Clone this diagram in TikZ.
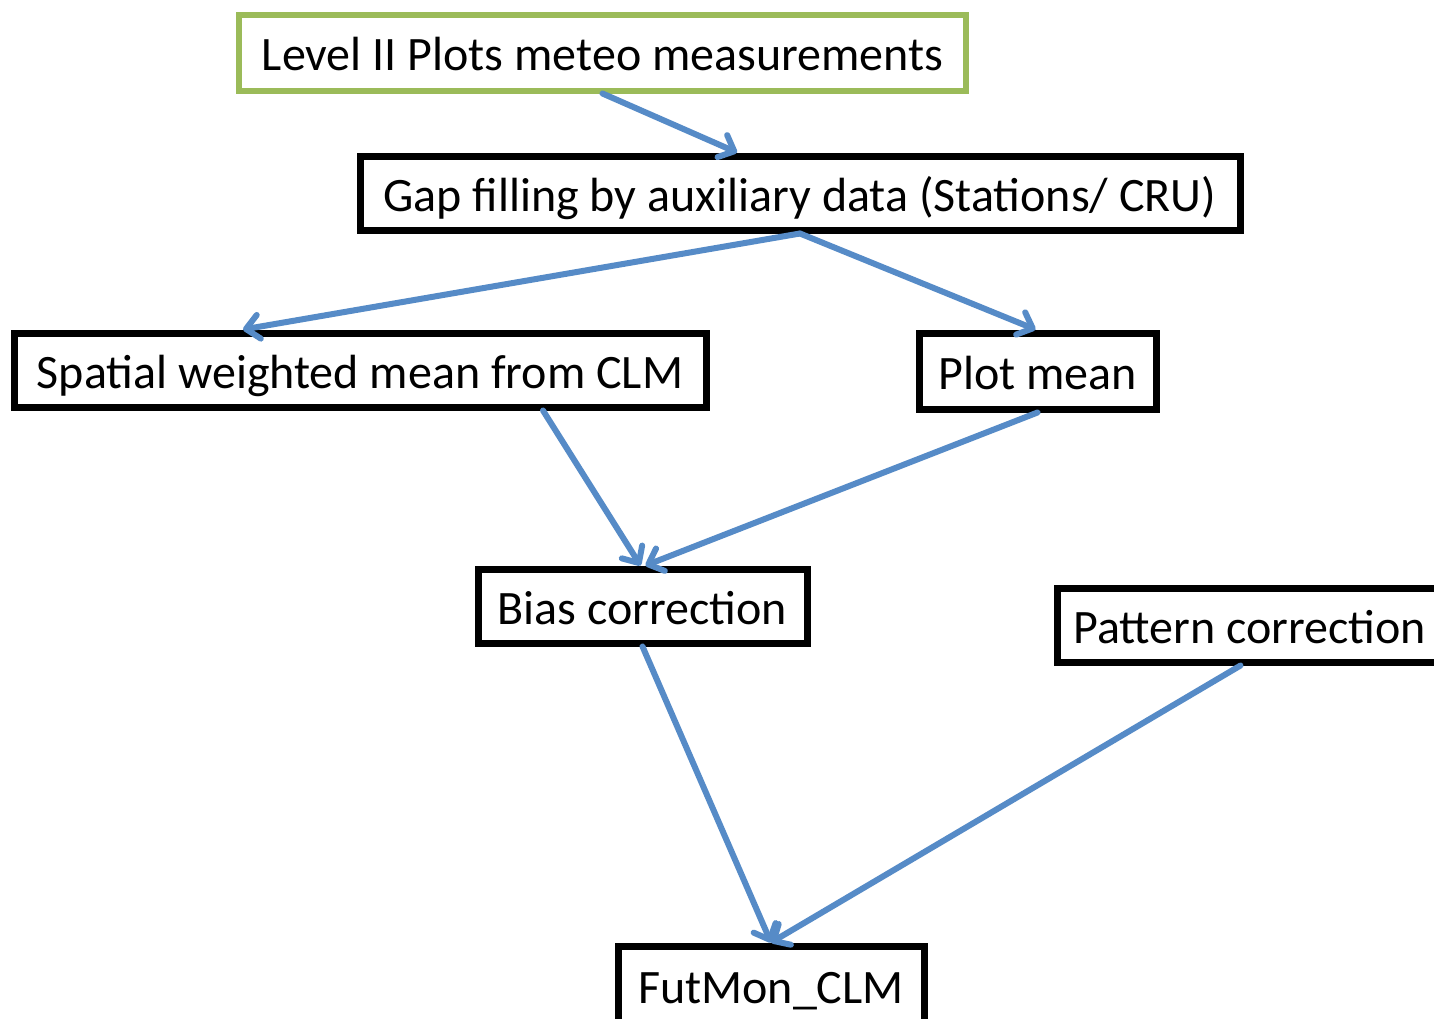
\documentclass[tikz,border=0pt]{standalone}
\usepackage{fontspec}
\setmainfont{Carlito}
\usetikzlibrary{arrows.meta,calc}
\definecolor{boxgreen}{RGB}{155,187,89}
\definecolor{arrowblue}{RGB}{86,139,199}
\tikzset{
  box/.style={draw=black, line width=7pt, fill=white, inner sep=0pt,
    text height=36pt, text depth=0pt,
    font=\fontsize{48}{58}\selectfont},
  greenbox/.style={box, draw=boxgreen, line width=6pt},
  conn/.style={draw=arrowblue, line width=6pt, line cap=round, line join=round,
    -{Straight Barb[length=13pt,width=24pt,line width=6pt,round]}}
}
\begin{document}
\begin{tikzpicture}[x=1pt,y=-1pt]
\path[use as bounding box, clip] (0,0) rectangle (1434,1018);
\fill[white] (0,0) rectangle (1434,1018);
\node[greenbox, minimum width=727pt, minimum height=76pt] (l2) at (602.5,52.5) {Level II Plots meteo measurements};
\node[box, minimum width=880pt, minimum height=74pt] (gap) at (800,193) {Gap filling by auxiliary data (Stations/ CRU)};
\node[box, minimum width=692pt, minimum height=74pt] (spatial) at (360,370) {Spatial weighted mean from CLM};
\node[box, minimum width=237pt, minimum height=76pt] (plot) at (1037.5,371) {Plot mean};
\node[box, minimum width=329pt, minimum height=74pt] (bias) at (642.5,606) {Bias correction};
\node[box, minimum width=385pt, minimum height=74pt] (pattern) at (1249.5,625) {Pattern correction};
\node[box, minimum width=306pt, minimum height=78pt] (fut) at (771,985) {FutMon\_CLM};
\draw[conn] (l2.south) -- ($(gap.north)+(-63,0)$);
\draw[conn] (gap.south) -- ($(spatial.north)+(-117,0)$);
\draw[conn] (gap.south) -- ($(plot.north)+(-2,0)$);
\draw[conn] ($(spatial.south)+(183,0)$) -- ($(bias.north)+(-2,0)$);
\draw[conn] (plot.south) -- ($(bias.north)+(3,0)$);
\draw[conn] (bias.south) -- (fut.north);
\draw[conn] ($(pattern.south)+(-9,0)$) -- (fut.north);
\end{tikzpicture}
\end{document}
